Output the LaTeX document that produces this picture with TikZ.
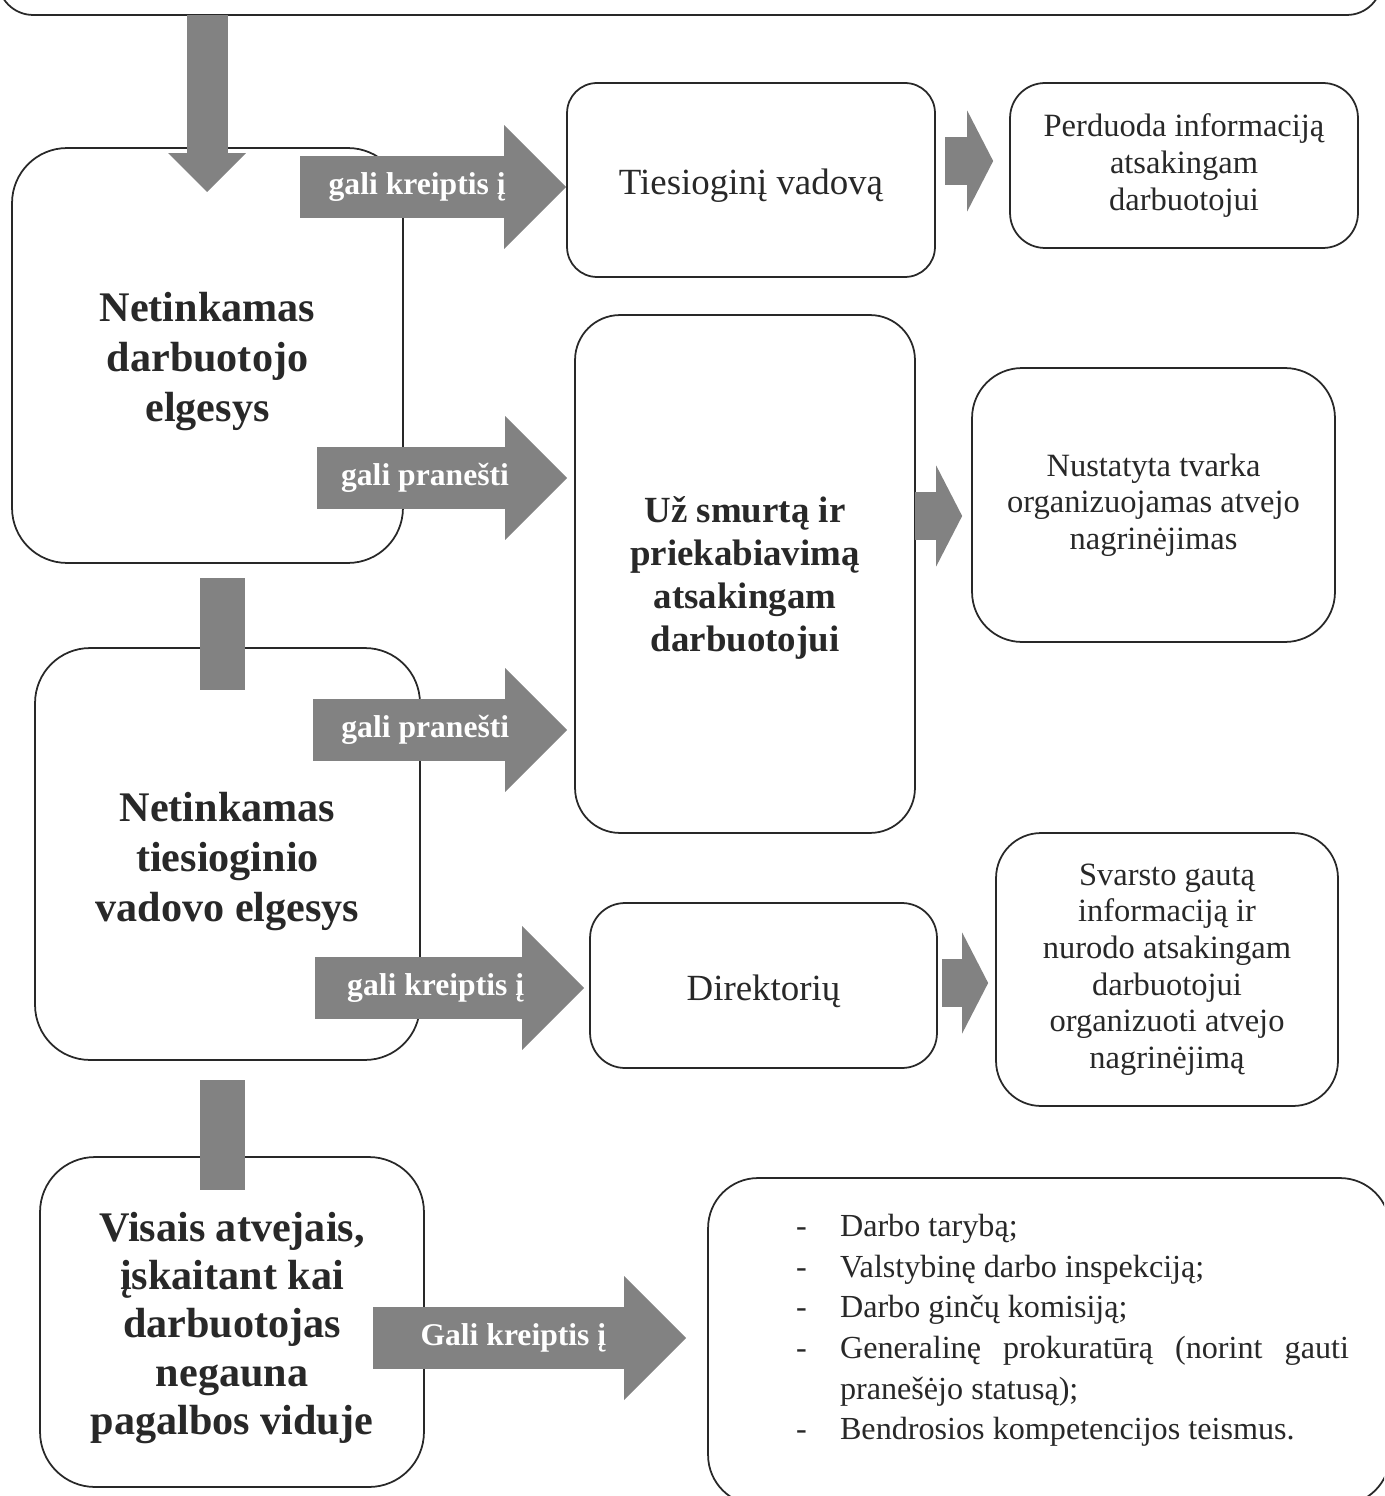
\documentclass[tikz,border=0pt]{standalone}
\usepackage{fontspec}
\setmainfont{Liberation Serif}
\usetikzlibrary{arrows.meta}
\definecolor{arrowgray}{RGB}{130,130,130}
\definecolor{ink}{RGB}{40,40,40}
\tikzset{box/.style = {shape=rectangle, draw=ink, line width=1pt, text=ink, align=center, inner sep=0pt}}
\tikzset{bigtext/.style = {font=\bfseries\fontsize{24}{28.5}\selectfont}}
\tikzset{midtext/.style = {font=\bfseries\fontsize{21}{24.5}\selectfont}}
\tikzset{plaintext/.style = {font=\fontsize{18.5}{20.8}\selectfont}}
\tikzset{nametext/.style = {font=\fontsize{21}{24}\selectfont}}
\tikzset{barrow/.style = {draw=arrowgray, line width=1.24cm, -{Triangle[length=1.24cm, width=2.48cm, line width=0pt]}}}
\tikzset{sarrow/.style = {draw=arrowgray, line width=0.96cm, -{Triangle[length=0.52cm, width=2.02cm, line width=0pt]}}}
\tikzset{darrow/.style = {draw=arrowgray, line width=0.82cm, -{Triangle[length=0.78cm, width=1.56cm, line width=0pt]}}}
\tikzset{bar/.style = {draw=arrowgray, line width=0.9cm}}
\tikzset{lbl/.style = {text=white, font=\bfseries\fontsize{18}{20}\selectfont, inner sep=0pt}}
\newcommand{\itemdash}{\noindent\llap{\makebox[0.88cm][l]{-}}}

\begin{document}
\begin{tikzpicture}[x=0.02cm, y=-0.02cm]
\useasboundingbox (0,0) rectangle (1384,1496);
\clip (0,0) rectangle (1384,1496);
% boxes
\node[box, rounded corners=0.7cm, minimum width=27.68cm, minimum height=4.3cm] (top) at (690,-92.5) {};

\node[box, rounded corners=1.1cm, minimum width=7.82cm, minimum height=8.3cm, bigtext] (netd) at (207.5,355.5) {\rule{0pt}{0.82cm}Netinkamas\\darbuotojo\\elgesys};
\node[box, rounded corners=1.1cm, minimum width=7.7cm, minimum height=8.24cm, bigtext] (netv) at (227.5,854) {\rule{0pt}{0.9cm}Netinkamas\\tiesioginio\\vadovo elgesys};
\node[box, rounded corners=1.1cm, minimum width=7.68cm, minimum height=6.6cm, font=\bfseries\fontsize{24}{27.5}\selectfont] (visi) at (232,1322) {\rule{0pt}{0.82cm}Visais atvejais,\\įskaitant kai\\darbuotojas\\negauna\\pagalbos viduje};

\node[box, rounded corners=0.6cm, minimum width=7.36cm, minimum height=3.88cm, nametext] (vad) at (751,180) {\rule{0pt}{0.74cm}Tiesioginį vadovą};
\node[box, rounded corners=0.9cm, minimum width=6.8cm, minimum height=10.36cm, midtext] (smurt) at (745,574) {\rule{0pt}{0.67cm}Už smurtą ir\\priekabiavimą\\atsakingam\\darbuotojui};
\node[box, rounded corners=0.7cm, minimum width=6.94cm, minimum height=3.3cm, nametext] (dir) at (763.5,985.5) {\rule{0pt}{0.74cm}Direktorių};

\node[box, rounded corners=0.7cm, minimum width=6.96cm, minimum height=3.3cm, plaintext] (perd) at (1184,165.5) {Perduoda informaciją\\atsakingam\\darbuotojui};
\node[box, rounded corners=1cm, minimum width=7.26cm, minimum height=5.48cm, plaintext] (tvark) at (1153.5,505) {Nustatyta tvarka\\organizuojamas atvejo\\nagrinėjimas};
\node[box, rounded corners=0.9cm, minimum width=6.84cm, minimum height=5.46cm, plaintext] (svar) at (1167,969.5) {Svarsto gautą\\informaciją ir\\nurodo atsakingam\\darbuotojui\\organizuoti atvejo\\nagrinėjimą};

\node[box, rounded corners=1cm, minimum width=13.64cm, minimum height=6.54cm, align=justify, text width=12cm, font=\fontsize{18.3}{23.1}\selectfont] (kitur) at (1049,1341.5) {%
\leftskip=1.82cm \parindent=0pt \hyphenpenalty=10000
\itemdash Darbo tarybą;\par
\itemdash Valstybinę darbo inspekciją;\par
\itemdash Darbo ginčų komisiją;\par
\itemdash Generalinę prokuratūrą (norint gauti\linebreak pranešėjo statusą);\par
\itemdash Bendrosios kompetencijos teismus.\par\vspace{0.44cm}};

% connector ends
\coordinate (d0) at (207,15);
\coordinate (d1) at (207,192);
\coordinate (b1) at (222.5,578);
\coordinate (b2) at (222.5,690);
\coordinate (b3) at (222.5,1080);
\coordinate (b4) at (222.5,1190);
\coordinate (k1) at (300,187);
\coordinate (p1) at (317,478);
\coordinate (p2) at (313,730);
\coordinate (k2) at (315,988);
\coordinate (g3) at (373,1338);
\coordinate (s1) at (945,161);
\coordinate (s2) at (915,516);
\coordinate (s3) at (942,983);

% arrows
\draw[darrow] (d0) -- (d1);
\draw[bar] (b1) -- (b2);
\draw[bar] (b3) -- (b4);

\draw[barrow] (k1) -- (k1 -| vad.west) node[lbl, pos=0.44] (k1l) {gali kreiptis į};
\draw[barrow, shorten >=0.14cm] (p1) -- (p1 -| smurt.west) node[lbl, pos=0.42] (p1l) {gali pranešti};
\draw[barrow, shorten >=0.14cm] (p2) -- (p2 -| smurt.west) node[lbl, pos=0.43] (p2l) {gali pranešti};
\draw[barrow, shorten >=0.1cm] (k2) -- (k2 -| dir.west) node[lbl, pos=0.44] (k2l) {gali kreiptis į};
\draw[barrow, shorten >=0.42cm] (g3) -- (g3 -| kitur.west) node[lbl, pos=0.42] (g3l) {Gali kreiptis į};

\draw[sarrow, shorten >=0.32cm] (s1) -- (s1 -| perd.west);
\draw[sarrow, shorten >=0.18cm] (s2) -- (s2 -| tvark.west);
\draw[sarrow, shorten >=0.14cm] (s3) -- (s3 -| svar.west);
\end{tikzpicture}
\end{document}
